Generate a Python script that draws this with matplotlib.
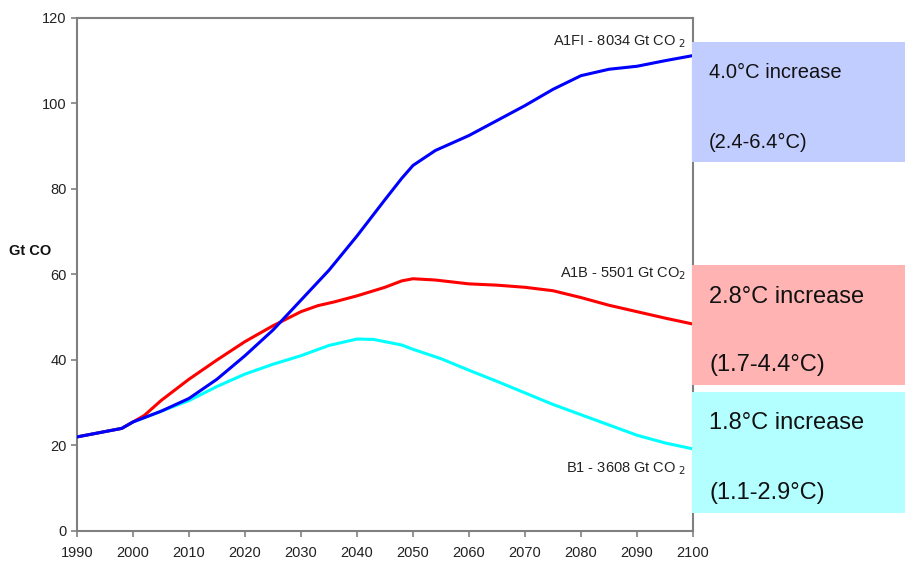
import matplotlib.pyplot as plt
from matplotlib.patches import Rectangle

plt.rcParams['font.family'] = ['Liberation Sans', 'DejaVu Sans']

# emissions pathways, Gt CO2 per year
years_a1fi = [1990, 1998, 2000, 2005, 2010, 2015, 2020, 2025, 2030, 2035, 2040, 2045, 2048, 2050, 2054, 2060, 2065, 2070, 2075, 2080, 2085, 2090, 2095, 2100]
a1fi = [22, 24, 25.5, 28, 31, 35.5, 41, 47, 54, 61, 69, 77.5, 82.5, 85.5, 89, 92.5, 96, 99.5, 103.3, 106.5, 108, 108.7, 110, 111.2]

years_a1b = [1990, 1998, 2000, 2002, 2005, 2010, 2015, 2020, 2025, 2030, 2033, 2036, 2040, 2045, 2048, 2050, 2054, 2060, 2065, 2070, 2075, 2080, 2085, 2090, 2095, 2100]
a1b = [22, 24, 25.5, 27, 30.5, 35.5, 40, 44.3, 48, 51.3, 52.7, 53.6, 55, 57, 58.5, 59, 58.7, 57.8, 57.5, 57, 56.2, 54.6, 52.8, 51.3, 49.8, 48.4]

years_b1 = [1990, 1998, 2000, 2005, 2010, 2015, 2020, 2025, 2030, 2035, 2040, 2043, 2048, 2050, 2055, 2060, 2065, 2070, 2075, 2080, 2085, 2090, 2095, 2100]
b1 = [22, 24, 25.5, 28, 30.5, 33.8, 36.7, 39, 41, 43.4, 44.9, 44.8, 43.5, 42.5, 40.3, 37.6, 35, 32.3, 29.6, 27.2, 24.8, 22.4, 20.6, 19.2]

labels = ['A1FI - 8034 Gt CO$_{\\ 2}$', 'A1B - 5501 Gt CO$_2$', 'B1 - 3608 Gt CO$_{\\ 2}$']
label_y = [114.5, 60.3, 14.5]
box_lines = [('4.0°C increase', '(2.4-6.4°C)'), ('2.8°C increase', '(1.7-4.4°C)'), ('1.8°C increase', '(1.1-2.9°C)')]
box_colors = ['#c2cdff', '#ffb3b3', '#b3ffff']
box_ranges = [(86.3, 114.4), (34.2, 62.2), (4.2, 32.5)]
box_text_y = [(107.2, 90.8), (54.7, 38.8), (25.3, 8.9)]
box_font = [14.5, 17, 17]

fig = plt.figure(figsize=(9.21, 5.61), dpi=100)
ax = fig.add_axes([0.0836, 0.0535, 0.6688, 0.9145])

ax.plot(years_a1fi, a1fi, color='#0000ff', lw=2.2, zorder=3)
ax.plot(years_b1, b1, color='#00ffff', lw=2.2, zorder=2)
ax.plot(years_a1b, a1b, color='#ff0000', lw=2.2, zorder=2)

ax.set_xlim(1990, 2100)
ax.set_ylim(0, 120)
ax.set_xticks(range(1990, 2101, 10))
ax.set_yticks(range(0, 121, 20))
for s in ax.spines.values():
    s.set_color('#808080')
    s.set_linewidth(1.5)
ax.tick_params(colors='#808080', labelcolor='#222222', labelsize=10.5, length=4, width=1.2)
ax.tick_params(axis='x', pad=7)

fig.text(0.010, 0.553, 'Gt CO', fontsize=10.5, fontweight='bold', color='#111111', va='center')

for lab, y in zip(labels, label_y):
    ax.text(2098.8, y, lab, ha='right', va='center', fontsize=10.5, color='#222222')

for (lo, hi), c, (l1, l2), (y1, y2), fs in zip(box_ranges, box_colors, box_lines, box_text_y, box_font):
    ax.add_patch(Rectangle((2099.9, lo), 37.9, hi - lo, facecolor=c, edgecolor='none', clip_on=False, zorder=4))
    ax.text(2102.9, y1, l1, fontsize=fs, va='center', color='#111111', clip_on=False, zorder=5)
    ax.text(2102.9, y2, l2, fontsize=fs, va='center', color='#111111', clip_on=False, zorder=5)

fig.savefig('out.png', dpi=100)
